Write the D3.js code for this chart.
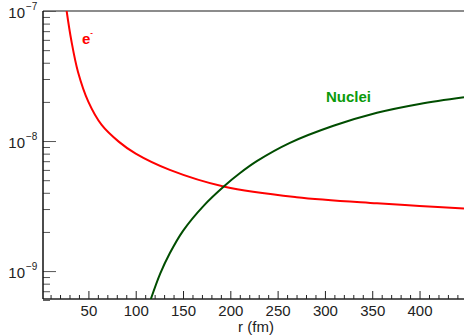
<!DOCTYPE html>
<html><head><meta charset="utf-8">
<script src="https://cdn.jsdelivr.net/npm/d3@7/dist/d3.min.js"></script>
<style>
html,body{margin:0;padding:0;background:#fff;}
svg{display:block;}
text{font-family:"Liberation Sans",Arial,sans-serif;}
</style></head>
<body>
<script>
// ---- data ----
const electronR = [27, 32, 39, 50, 64, 82, 100, 136, 194, 270, 355, 400, 447];
const electronV = [1.0e-7, 5.9e-8, 3.4e-8, 2.0e-8, 1.33e-8, 9.9e-9, 8.0e-9, 6.0e-9, 4.45e-9, 3.7e-9, 3.32e-9, 3.17e-9, 3.03e-9];
const nucleiR = [116, 126, 136, 150, 172, 194, 210, 228, 263, 309, 355, 400, 447];
const nucleiV = [6.1e-10, 9.6e-10, 1.37e-9, 2.04e-9, 3.19e-9, 4.53e-9, 5.65e-9, 7.0e-9, 9.68e-9, 1.31e-8, 1.65e-8, 1.93e-8, 2.17e-8];
const xMajorTicks = [50, 100, 150, 200, 250, 300, 350, 400];
const xMinorTicks = [10,20,30,40,60,70,80,90,110,120,130,140,160,170,180,190,210,220,230,240,260,270,280,290,310,320,330,340,360,370,380,390,410,420,430,440];
const yDecades = [-7, -8, -9];
const yMinorTicks = [6e-10,7e-10,8e-10,9e-10,2e-9,3e-9,4e-9,5e-9,6e-9,7e-9,8e-9,9e-9,2e-8,3e-8,4e-8,5e-8,6e-8,7e-8,8e-8,9e-8];
const xTitle = "r (fm)";

const W = 464, H = 335;
const L = 43, R = 464, T = 11, B = 299;

const svg = d3.select("body").append("svg").attr("width", W).attr("height", H);
const x = d3.scaleLinear().domain([2, 447]).range([L, R]);
const y = d3.scaleLog().domain([6.1e-10, 1e-7]).range([B, T]);

svg.append("defs").append("clipPath").attr("id","clip")
  .append("rect").attr("x", L).attr("y", T).attr("width", R-L).attr("height", B-T);

// frame top
svg.append("line").attr("x1", L).attr("x2", R).attr("y1", T).attr("y2", T)
  .attr("stroke", "#666").attr("stroke-width", 1.5);

// x axis
const gxMinor = svg.append("g").attr("transform", `translate(0,${B})`)
  .call(d3.axisBottom(x).tickValues(xMinorTicks).tickSize(-4).tickFormat(""));
const gxMajor = svg.append("g").attr("transform", `translate(0,${B})`)
  .call(d3.axisBottom(x).tickValues(xMajorTicks).tickSize(-8).tickFormat(d3.format("d")));
[gxMinor, gxMajor].forEach(g => { g.select(".domain").remove(); g.selectAll(".tick line").attr("stroke", "#222"); });
gxMajor.selectAll(".tick text").attr("font-size", 15).attr("fill", "#222")
  .attr("font-family", '"Liberation Sans",Arial,sans-serif').attr("dy", "0.71em").attr("y", 6);
svg.append("line").attr("x1", L).attr("x2", R).attr("y1", B).attr("y2", B)
  .attr("stroke", "#222").attr("stroke-width", 1.5);

// y axis
const gyMinor = svg.append("g").attr("transform", `translate(${L},0)`)
  .call(d3.axisLeft(y).tickValues(yMinorTicks).tickSize(-7).tickFormat(""));
const gyMajor = svg.append("g").attr("transform", `translate(${L},0)`)
  .call(d3.axisLeft(y).tickValues(yDecades.map(e => Math.pow(10, e))).tickSize(-13).tickFormat(""));
[gyMinor, gyMajor].forEach(g => { g.select(".domain").remove(); g.selectAll(".tick line").attr("stroke", "#555"); });
svg.append("line").attr("x1", L).attr("x2", L).attr("y1", T).attr("y2", B)
  .attr("stroke", "#111").attr("stroke-width", 1.5);

yDecades.forEach(e => {
  const yy = y(Math.pow(10, e));
  svg.append("text").attr("x", 25).attr("y", yy + 7).attr("text-anchor", "end")
    .attr("font-size", 15).attr("fill", "#222").text("10");
  svg.append("text").attr("x", 26).attr("y", yy - 1).attr("font-size", 10).attr("fill", "#222")
    .text("\u2212" + Math.abs(e));
});

// x title
svg.append("text").attr("x", 256).attr("y", 332).attr("text-anchor", "middle")
  .attr("font-size", 15).attr("fill", "#222").text(xTitle);

// curves
const plot = svg.append("g").attr("clip-path", "url(#clip)");
const lineGen = d3.line().x(d => x(d[0])).y(d => y(d[1])).curve(d3.curveCatmullRom.alpha(0.5));
plot.append("path").datum(electronR.map((r, i) => [r, electronV[i]]))
  .attr("d", lineGen).attr("fill", "none").attr("stroke", "#ff0000").attr("stroke-width", 2);
plot.append("path").datum(nucleiR.map((r, i) => [r, nucleiV[i]]))
  .attr("d", lineGen).attr("fill", "none").attr("stroke", "#004d00").attr("stroke-width", 2);

// labels
const eLab = svg.append("text").attr("x", 82).attr("y", 44).attr("font-size", 15)
  .attr("font-weight", "bold").attr("fill", "#ff0000");
eLab.append("tspan").text("e");
eLab.append("tspan").attr("dy", -9).attr("font-size", 8).text("-");
svg.append("text").attr("x", 326).attr("y", 102).attr("font-size", 15)
  .attr("font-weight", "bold").attr("fill", "#0a9a0a").text("Nuclei");
</script>
</body></html>
